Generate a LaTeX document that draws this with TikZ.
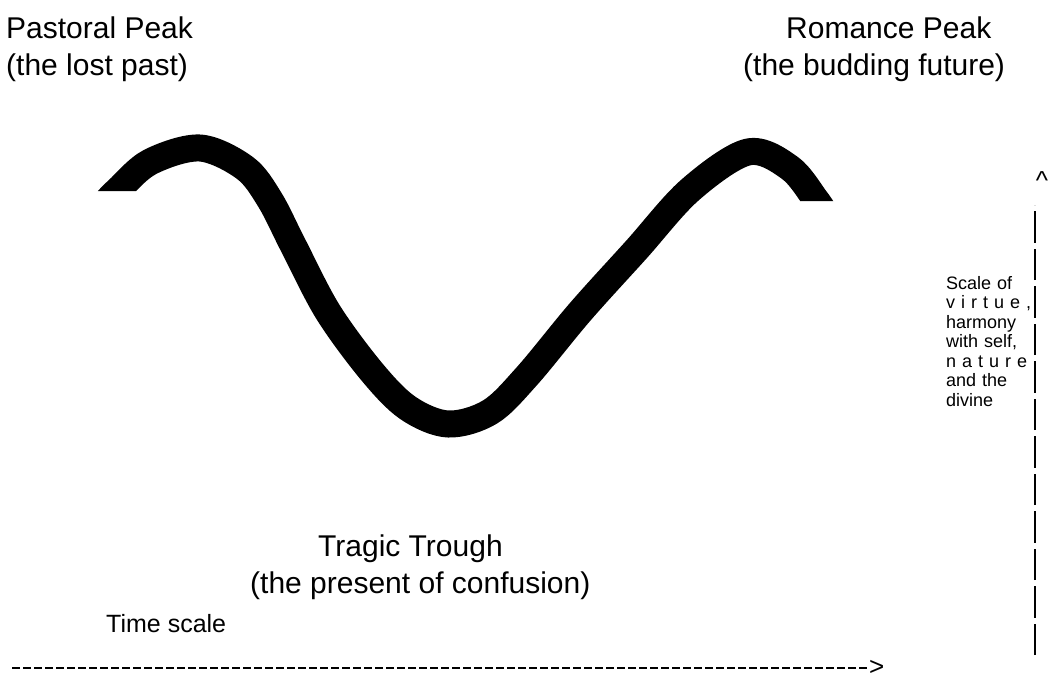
\documentclass[tikz,border=0pt]{standalone}
\usepackage{fontspec}
\setmainfont{Liberation Sans}
\usetikzlibrary{positioning}
\definecolor{ink}{HTML}{000000}
\newlength{\notewidth}
\setlength{\notewidth}{71pt}
\tikzset{
  every node/.style={text=ink, inner sep=0pt},
  heading/.style={font=\fontsize{30}{37}\selectfont, align=left},
  caption/.style={font=\fontsize{25}{28}\selectfont},
  scalenote/.style={font=\fontsize{18}{19.5}\selectfont, text width=\notewidth, align=left},
  glyph/.style={font=\fontsize{26}{30}\selectfont, inner sep=1pt},
  wave/.style={draw=ink, line width=27pt, line join=round},
  timeaxis/.style={draw=ink, line width=2.5pt, dash pattern=on 8pt off 3pt},
  virtueaxis/.style={draw=ink, line width=2pt, dash pattern=on 31.5pt off 6pt},
}
\newcommand{\spreadline}[1]{\makebox[\notewidth][s]{#1}}

\begin{document}
\begin{tikzpicture}[x=1pt, y=-1pt]
  \useasboundingbox (0,0) rectangle (1053,681);

  % ---- the wave: peak, trough, peak -------------------------------------
  \begin{scope}
    \clip (0,0) -- (1053,0) -- (1053,201) -- (760,201) -- (760,681)
      -- (200,681) -- (200,191) -- (0,191) -- cycle;
    \draw[wave] plot[smooth, tension=0.55] coordinates {
      (108,200) (118,190) (150,162) (200,148) (245,168) (270,200)
      (293,245) (328,312) (372,372) (408,408) (448,424) (490,412)
      (527,376) (580,312) (636,250) (690,190) (748,152) (790,168)
      (816,200) (824,212)};
  \end{scope}

  % ---- labels -------------------------------------------------------------
  \node[heading, anchor=north west] (pastoral) at (6,17) {Pastoral Peak\\(the lost past)};
  \node[heading, anchor=north west] (romance) at (743,17) {\hspace*{43pt}Romance Peak\\(the budding future)};
  \node[heading, anchor=north west] (tragic) at (250,535) {\hspace*{68pt}Tragic Trough\\(the present of confusion)};

  % ---- time axis ----------------------------------------------------------
  \node[caption, anchor=base west] (timelabel) at (106,632) {Time scale};
  \coordinate (htail) at (12,668);
  \coordinate (hhead) at (868,668);
  \node[glyph, right=0pt of hhead] (harrow) {>};
  \draw[timeaxis] (htail) -- (hhead);

  % ---- virtue axis --------------------------------------------------------
  \coordinate (vtail) at (1035,655);
  \coordinate (vhead) at (1035,205);
  \draw[virtueaxis] (vtail) -- (vhead);
  \node[glyph, above=14pt of vhead, xshift=7pt] (vcaret) {\textasciicircum};
  \node[scalenote, anchor=north west] (virtue) at (946,276)
    {\spreadline{Scale of}\\\spreadline{v i r t u e ,}\\harmony\\\spreadline{with self,}\\\spreadline{n a t u r e}\\\spreadline{and the}\\divine};
\end{tikzpicture}
\end{document}
